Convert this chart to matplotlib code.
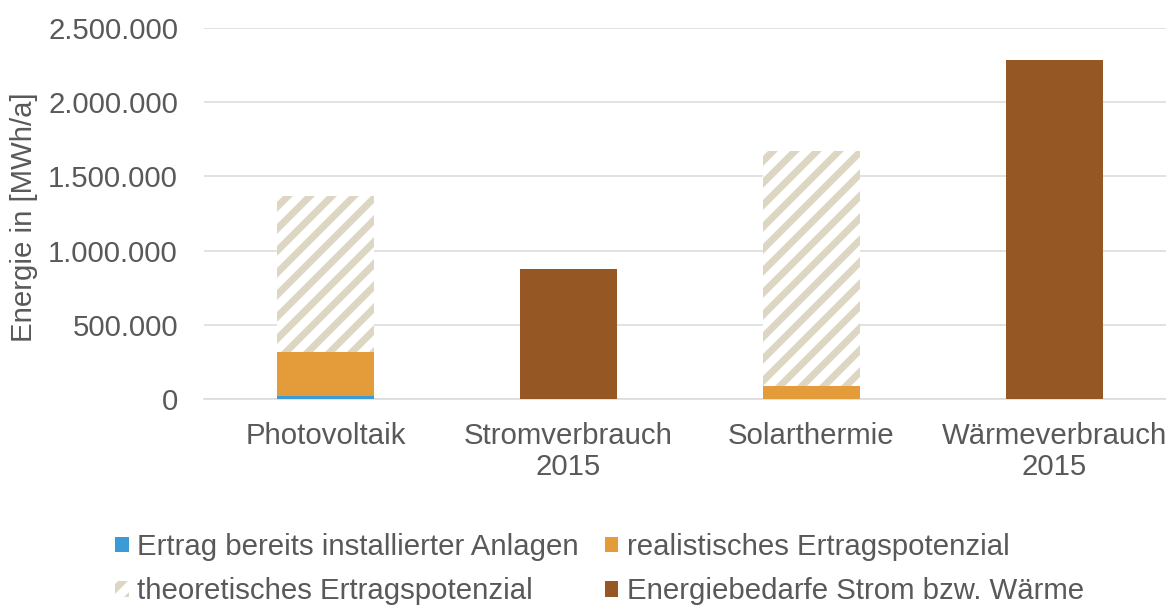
import matplotlib
matplotlib.use("Agg")
import matplotlib.pyplot as plt
from matplotlib.patches import Patch
from matplotlib.ticker import FuncFormatter

categories = ["Photovoltaik", "Stromverbrauch\n2015", "Solarthermie", "Wärmeverbrauch\n2015"]
installiert = [20000, 0, 3000, 0]
realistisch = [297000, 0, 85000, 0]
theoretisch = [1051000, 0, 1583000, 0]
bedarf = [0, 876000, 0, 2284000]

labels = [
    "Ertrag bereits installierter Anlagen",
    "realistisches Ertragspotenzial",
    "theoretisches Ertragspotenzial",
    "Energiebedarfe Strom bzw. Wärme",
]

BLUE = "#3a9bd6"
ORANGE = "#e49c3b"
BROWN = "#955724"
BEIGE = "#dcd6c2"
TEXT = "#595959"
GRID = "#d9d9d9"

# low dpi so that the hatch stripes come out as wide as in the original
DPI = 66
W, H = 1166, 608


def pt(px):
    return px * 72 / DPI


FS = pt(29.4)

plt.rcParams["font.family"] = ["Liberation Sans", "DejaVu Sans"]
plt.rcParams["hatch.linewidth"] = pt(7)
plt.rcParams["hatch.color"] = BEIGE

fig = plt.figure(figsize=(W / DPI, H / DPI), dpi=DPI)
ax = fig.add_axes([204 / W, 1 - 399 / H, 972 / W, 371 / H])

x = list(range(len(categories)))
w = 0.40
bottom2 = installiert
bottom3 = [a + b for a, b in zip(installiert, realistisch)]
ax.bar(x, installiert, w, color=BLUE, zorder=3)
ax.bar(x, realistisch, w, bottom=bottom2, color=ORANGE, zorder=3)
ax.bar(x, theoretisch, w, bottom=bottom3, facecolor="white", edgecolor=BEIGE,
       hatch="/", linewidth=0, zorder=3)
ax.bar(x, bedarf, w, color=BROWN, zorder=3)

ax.set_xlim(-0.5, 3.5)
ax.set_ylim(0, 2500000)
ax.set_yticks(range(0, 2500001, 500000))
ax.yaxis.set_major_formatter(FuncFormatter(lambda v, p: f"{int(v):,}".replace(",", ".")))
ax.set_xticks(x)
ax.set_xticklabels(categories, linespacing=1.15)
ax.tick_params(axis="both", length=0, labelsize=FS, colors=TEXT)
ax.tick_params(axis="x", pad=pt(23))
ax.tick_params(axis="y", pad=pt(26))
ax.grid(axis="y", color=GRID, linewidth=pt(1.5), zorder=0)
for s in ["top", "right", "left"]:
    ax.spines[s].set_visible(False)
ax.spines["bottom"].set_color(GRID)
ax.spines["bottom"].set_linewidth(pt(1.5))

ax.set_ylabel("Energie in [MWh/a]", fontsize=FS, color=TEXT)
ax.yaxis.set_label_coords(-0.171, 0.49)

handles = [
    Patch(facecolor=BLUE, edgecolor="none"),
    Patch(facecolor="white", edgecolor=BEIGE, hatch="/", linewidth=0),
    Patch(facecolor=ORANGE, edgecolor="none"),
    Patch(facecolor=BROWN, edgecolor="none"),
]
leg_labels = [labels[0], labels[2], labels[1], labels[3]]
fig.legend(handles, leg_labels, ncol=2, loc="center", bbox_to_anchor=(0.5143, 0.064),
           frameon=False, fontsize=FS, labelcolor=TEXT, handlelength=0.45,
           handleheight=0.45, handletextpad=0.3, columnspacing=0.88, labelspacing=0.55)

fig.savefig("out.png", dpi=DPI)
